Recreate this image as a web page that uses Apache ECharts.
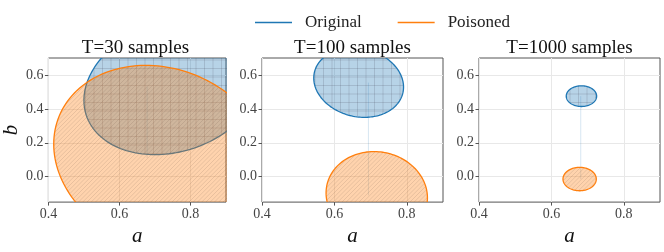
<!DOCTYPE html>
<html>
<head>
<meta charset="utf-8">
<script src="https://cdn.jsdelivr.net/npm/echarts@6/dist/echarts.min.js"></script>
<style>html,body{margin:0;padding:0;background:#fff}#c{width:664px;height:252px}</style>
</head>
<body>
<div id="c"></div>
<script>
// ---- data ----
const panelTitles = ['T=30 samples', 'T=100 samples', 'T=1000 samples'];
const seriesNames = ['Original', 'Poisoned'];
const xTicks = [0.4, 0.6, 0.8];
const yTicks = [0.0, 0.2, 0.4, 0.6];
// ellipse parameters per panel: centre (a, b), half-extent along a and b, correlation
const origCenterA = [0.75, 0.667, 0.683];
const origCenterB = [0.53, 0.555, 0.475];
const origHalfA   = [0.25, 0.124, 0.042];
const origHalfB   = [0.40, 0.205, 0.061];
const origRho     = [0.20, -0.13, 0.0];
const poisCenterA = [0.72, 0.717, 0.678];
const poisCenterB = [0.11, -0.11, -0.014];
const poisHalfA   = [0.305, 0.14, 0.046];
const poisHalfB   = [0.5465, 0.258, 0.069];
const poisRho     = [-0.15, -0.055, 0.0];
// faint connecting line position (a) per panel
const linkA = [0.678, 0.694, 0.681];

// ---- styling ----
const FONT = '"Liberation Serif", "DejaVu Serif", serif';
const BLUE = '#1f77b4', ORANGE = '#ff7f0e';
const gridLefts = [45, 262, 479];
const gridW = 181, gridTop = 58, gridH = 152;

function makePattern(fill, kind, lineCol) {
  const N = 17;
  const c = document.createElement('canvas');
  c.width = N; c.height = N;
  const g = c.getContext('2d');
  g.fillStyle = fill; g.fillRect(0, 0, N, N);
  g.strokeStyle = lineCol;
  g.lineWidth = 1;
  g.beginPath();
  if (kind === 'grid') {
    for (let k = 0; k < 2; k++) {
      const p = k * 8.5 + 0.5;
      g.moveTo(p, 0); g.lineTo(p, N);
      g.moveTo(0, p); g.lineTo(N, p);
    }
  } else {
    for (let x0 = -N; x0 <= 2 * N; x0 += 4.25) {
      g.moveTo(x0, N); g.lineTo(x0 + N, 0);
    }
  }
  g.stroke();
  return { image: c, repeat: 'repeat' };
}
const bluePattern = makePattern('rgba(31,119,180,0.32)', 'grid', 'rgba(60,60,80,0.17)');
const orangePattern = makePattern('rgba(255,127,14,0.34)', 'diag', 'rgba(90,70,60,0.14)');

function ellipseRender(pattern, stroke) {
  return function (params, api) {
    const ca = api.value(0), cb = api.value(1), sa = api.value(2), sb = api.value(3), rho = api.value(4);
    const pts = [];
    const n = 160, q = Math.sqrt(1 - rho * rho);
    for (let i = 0; i < n; i++) {
      const t = 2 * Math.PI * i / n;
      const a = ca + sa * Math.cos(t);
      const b = cb + sb * (rho * Math.cos(t) + q * Math.sin(t));
      pts.push(api.coord([a, b]));
    }
    return {
      type: 'polygon',
      shape: { points: pts },
      style: { fill: pattern, stroke: stroke, lineWidth: 1.3 }
    };
  };
}

const grids = [], xAxes = [], yAxes = [], series = [], graphics = [];
for (let i = 0; i < 3; i++) {
  grids.push({ left: gridLefts[i], top: gridTop, width: gridW, height: gridH,
    show: true, borderColor: '#555', borderWidth: 1, backgroundColor: '#fff' });
  xAxes.push({
    type: 'value', gridIndex: i, min: 0.4, max: 0.9,
    name: 'a', nameLocation: 'middle', nameGap: 16,
    nameTextStyle: { fontFamily: FONT, fontStyle: 'italic', fontSize: 21, color: '#111' },
    axisLine: { show: false, onZero: false },
    axisTick: { show: true, length: 3.5, lineStyle: { color: '#555' }, customValues: xTicks },
    axisLabel: { fontFamily: FONT, fontSize: 14, color: '#444', margin: 5,
      customValues: xTicks, formatter: v => v.toFixed(1) },
    splitLine: { show: true, lineStyle: { color: '#e8e8e8', width: 1 } }
  });
  const yAx = {
    type: 'value', gridIndex: i, min: -0.15, max: 0.7,
    axisLine: { show: false, onZero: false },
    axisTick: { show: true, length: 3.5, lineStyle: { color: '#555' }, customValues: yTicks },
    axisLabel: { fontFamily: FONT, fontSize: 14, color: '#444', margin: 5,
      customValues: yTicks, formatter: v => v.toFixed(1) },
    splitLine: { show: true, lineStyle: { color: '#e8e8e8', width: 1 } }
  };
  if (i === 0) {
    yAx.name = 'b'; yAx.nameLocation = 'middle'; yAx.nameGap = 26;
    yAx.nameTextStyle = { fontFamily: FONT, fontStyle: 'italic', fontSize: 21, color: '#111' };
  }
  yAxes.push(yAx);
  series.push({
    type: 'line', xAxisIndex: i, yAxisIndex: i, name: 'link' + i,
    data: [[linkA[i], origCenterB[i]], [linkA[i], poisCenterB[i]]],
    symbol: 'none', silent: true, z: 1,
    lineStyle: { color: 'rgba(31,119,180,0.18)', width: 1 }
  });
  series.push({
    type: 'custom', name: seriesNames[0], xAxisIndex: i, yAxisIndex: i, clip: true, z: 2,
    itemStyle: { color: BLUE },
    encode: { x: 0, y: 1 },
    renderItem: ellipseRender(bluePattern, BLUE),
    data: [[origCenterA[i], origCenterB[i], origHalfA[i], origHalfB[i], origRho[i]]]
  });
  series.push({
    type: 'custom', name: seriesNames[1], xAxisIndex: i, yAxisIndex: i, clip: true, z: 3,
    itemStyle: { color: ORANGE },
    encode: { x: 0, y: 1 },
    renderItem: ellipseRender(orangePattern, ORANGE),
    data: [[poisCenterA[i], poisCenterB[i], poisHalfA[i], poisHalfB[i], poisRho[i]]]
  });
  graphics.push({
    type: 'text', x: gridLefts[i] + gridW / 2, y: 48,
    style: { text: panelTitles[i], fontFamily: FONT, fontSize: 19, fill: '#111',
      align: 'center', verticalAlign: 'middle' }
  });
}

const chart = echarts.init(document.getElementById('c'), null, { renderer: 'canvas' });
chart.setOption({
  animation: false,
  backgroundColor: '#fff',
  grid: grids, xAxis: xAxes, yAxis: yAxes, series: series,
  graphic: graphics,
  legend: {
    data: seriesNames, left: 250, top: 9, icon: 'rect', itemWidth: 37, itemHeight: 1.5,
    itemGap: 36,
    textStyle: { fontFamily: FONT, fontSize: 17, color: '#222', padding: [0, 0, 0, 8] }
  }
});
</script>
</body>
</html>
